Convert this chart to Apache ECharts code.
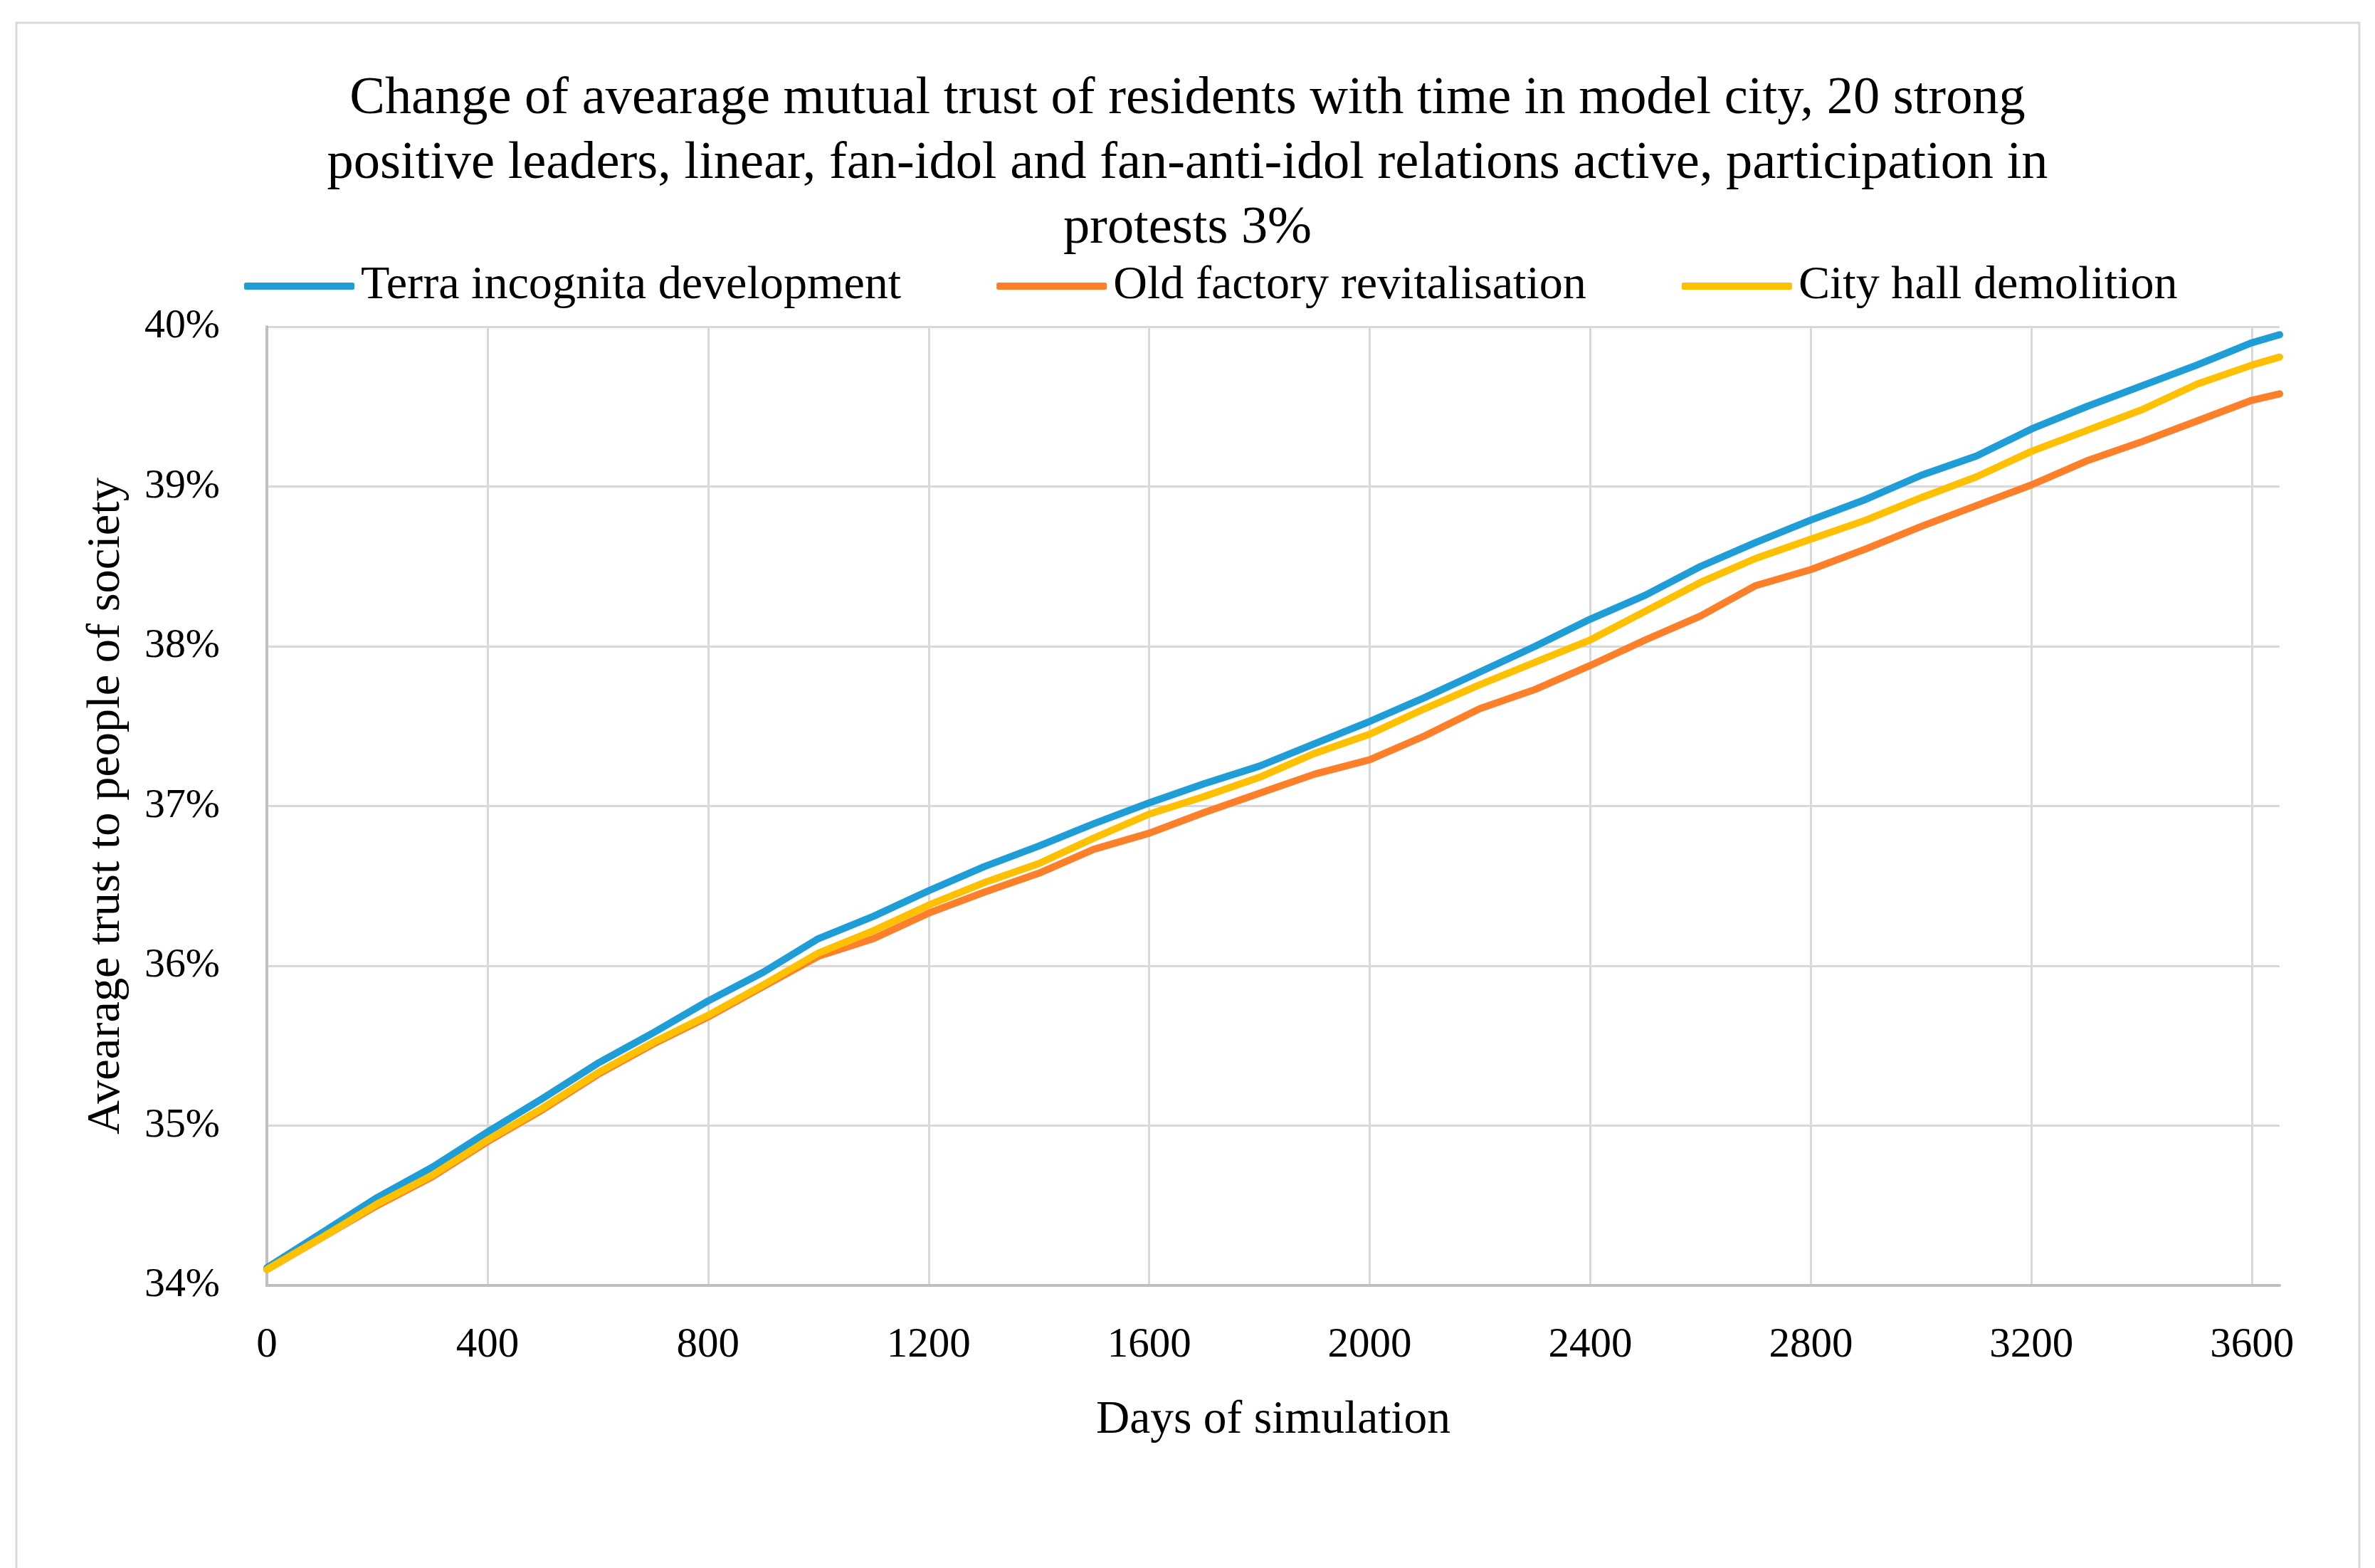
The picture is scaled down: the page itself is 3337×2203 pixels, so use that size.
<!DOCTYPE html>
<html>
<head>
<meta charset="utf-8">
<script src="https://cdn.jsdelivr.net/npm/echarts@6/dist/echarts.min.js"></script>
<style>
  html, body { margin: 0; padding: 0; background: #ffffff; }
  #chart { width: 3337px; height: 2203px; }
</style>
</head>
<body>
<div id="chart"></div>
<script>
// ---- data ----
const days = [0, 100, 200, 300, 400, 500, 600, 700, 800, 900, 1000, 1100, 1200, 1300, 1400, 1500, 1600, 1700, 1800, 1900,
  2000, 2100, 2200, 2300, 2400, 2500, 2600, 2700, 2800, 2900, 3000, 3100, 3200, 3300, 3400, 3500, 3600, 3650];

const terraIncognita = [34.11, 34.33, 34.55, 34.74, 34.96, 35.17, 35.39, 35.58, 35.78, 35.96,
  36.17, 36.31, 36.47, 36.62, 36.75, 36.89, 37.02, 37.14, 37.25, 37.39,
  37.53, 37.68, 37.84, 38.00, 38.17, 38.32, 38.50, 38.65, 38.79, 38.92,
  39.07, 39.19, 39.36, 39.50, 39.63, 39.76, 39.90, 39.95];

const oldFactory = [34.10, 34.30, 34.50, 34.68, 34.90, 35.10, 35.32, 35.51, 35.68, 35.87,
  36.06, 36.17, 36.33, 36.46, 36.58, 36.73, 36.83, 36.96, 37.08, 37.20,
  37.29, 37.44, 37.61, 37.73, 37.88, 38.04, 38.19, 38.38, 38.48, 38.61,
  38.75, 38.88, 39.01, 39.16, 39.28, 39.41, 39.54, 39.58];

const cityHall = [34.10, 34.30, 34.51, 34.69, 34.91, 35.11, 35.33, 35.52, 35.69, 35.88,
  36.08, 36.22, 36.38, 36.52, 36.64, 36.80, 36.95, 37.06, 37.18, 37.33,
  37.45, 37.61, 37.76, 37.90, 38.04, 38.22, 38.40, 38.55, 38.67, 38.79,
  38.93, 39.06, 39.22, 39.35, 39.48, 39.64, 39.76, 39.81];

const seriesNames = ['Terra incognita development', 'Old factory revitalisation', 'City hall demolition'];
const titleLines = [
  'Change of avearage mutual trust of residents with time in model city, 20 strong',
  'positive leaders, linear, fan-idol and fan-anti-idol relations active, participation in',
  'protests 3%'
];
const xAxisName = 'Days of simulation';
const yAxisName = 'Avearage trust to people of society';
const xTickInterval = 400;
const yMin = 34, yMax = 40, yInterval = 1;
const xMin = 0, xMax = 3650;

// ---- styling helpers ----
const FONT = '"Liberation Serif", "Times New Roman", serif';
const ctx = document.createElement('canvas').getContext('2d');
function fit(text, targetWidth) {
  ctx.font = '100px ' + FONT;
  return 100 * targetWidth / ctx.measureText(text).width;
}
const fsTitle = fit(titleLines[0], 2355);
const fsLegend = fit(seriesNames.join(''), 767 + 660 + 530);
const fsXTick = fit('3600', 118);
const fsYTick = fit('40%', 106);
const fsXName = fit(xAxisName, 498);
const fsYName = fit(yAxisName, 923);

const gridLeft = 375, gridRight = 3203, gridTop = 459, gridBottom = 1806;
const colors = ['#1E9DD7', '#FE7F2A', '#FFC000'];

function pairs(vals) { return days.map((d, i) => [d, vals[i]]); }
const allSeries = [terraIncognita, oldFactory, cityHall];

const chart = echarts.init(document.getElementById('chart'), null, { renderer: 'canvas', width: 3337, height: 2203 });
chart.setOption({
  backgroundColor: '#ffffff',
  animation: false,
  graphic: [{
    type: 'rect',
    shape: { x: 23, y: 32, width: 3292, height: 2300 },
    style: { fill: 'none', stroke: '#d9d9d9', lineWidth: 3 },
    silent: true, z: -10
  }],
  title: {
    text: titleLines.join('\n'),
    left: 'center',
    top: 139 - 45.5,
    padding: 0,
    textStyle: { fontFamily: FONT, fontSize: fsTitle, fontWeight: 'normal', color: '#000', lineHeight: 91 }
  },
  legend: {
    data: seriesNames,
    left: 343,
    top: 402 - fsLegend / 2,
    padding: 0,
    itemWidth: 155,
    itemHeight: 10,
    itemGap: 134,
    icon: 'roundRect',
    textStyle: { fontFamily: FONT, fontSize: fsLegend, color: '#000', lineHeight: fsLegend, padding: [0, 0, 0, 4] }
  },
  grid: {
    left: gridLeft, right: 3337 - gridRight, top: gridTop, bottom: 2203 - gridBottom,
    containLabel: false
  },
  xAxis: {
    type: 'value',
    min: xMin, max: xMax, interval: xTickInterval,
    name: xAxisName,
    nameLocation: 'middle',
    nameGap: 1996 - gridBottom - fsXName / 2,
    nameTextStyle: { fontFamily: FONT, fontSize: fsXName, color: '#000', lineHeight: fsXName },
    axisLine: { show: true, lineStyle: { color: '#bfbfbf', width: 4 } },
    axisTick: { show: false },
    axisLabel: {
      showMaxLabel: false,
      formatter: v => String(v),
      margin: 1890 - gridBottom - fsXTick / 2,
      fontFamily: FONT, fontSize: fsXTick, color: '#000', lineHeight: fsXTick
    },
    splitLine: { show: true, showMinLine: false, showMaxLine: false, lineStyle: { color: '#d9d9d9', width: 3 } }
  },
  yAxis: {
    type: 'value',
    min: yMin, max: yMax, interval: yInterval,
    name: yAxisName,
    nameLocation: 'middle',
    nameRotate: 90,
    nameGap: gridLeft - (150 + fsYName / 2),
    nameTextStyle: { fontFamily: FONT, fontSize: fsYName, color: '#000', lineHeight: fsYName },
    axisLine: { show: true, lineStyle: { color: '#bfbfbf', width: 4 } },
    axisTick: { show: false },
    axisLabel: {
      margin: gridLeft - 309,
      formatter: v => v + '%',
      fontFamily: FONT, fontSize: fsYTick, color: '#000'
    },
    splitLine: { show: true, lineStyle: { color: '#d9d9d9', width: 3 } }
  },
  series: allSeries.map((vals, i) => ({
    name: seriesNames[i],
    type: 'line',
    data: pairs(vals),
    showSymbol: false,
    symbol: 'none',
    color: colors[i],
    lineStyle: { color: colors[i], width: 10, cap: 'round', join: 'round' },
    itemStyle: { color: colors[i] },
    z: 2 + i
  }))
});
</script>
</body>
</html>
